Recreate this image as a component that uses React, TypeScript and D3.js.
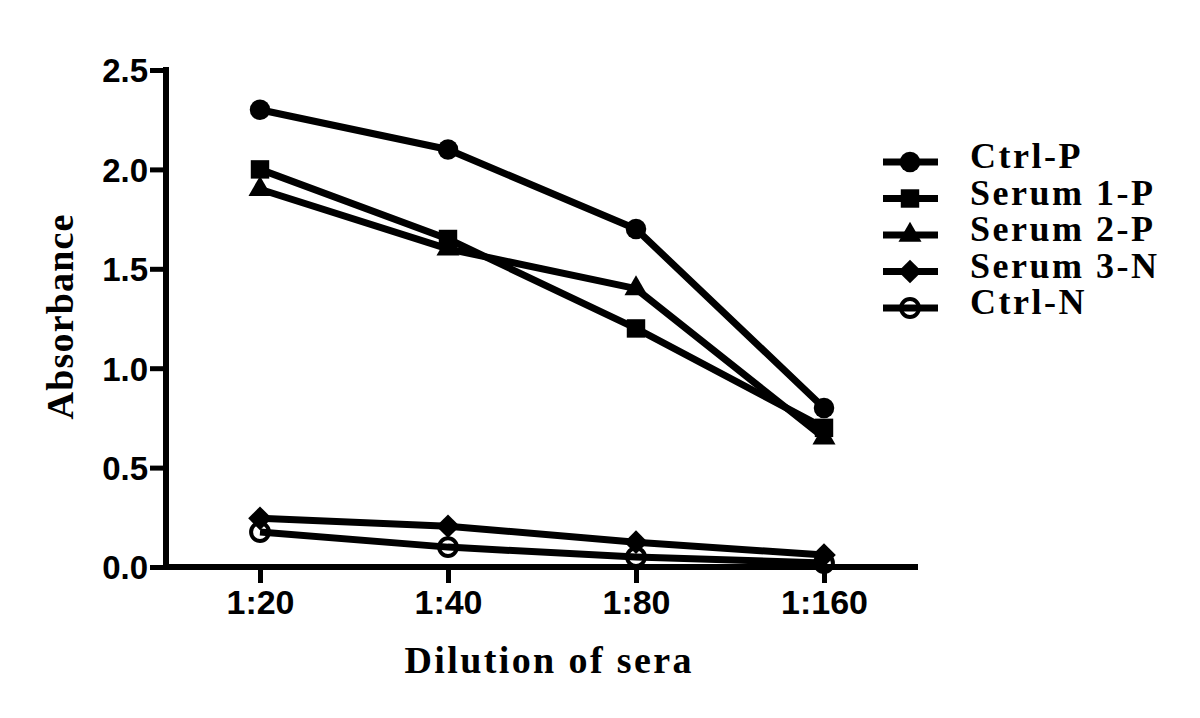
import React, { useEffect, useRef } from "react";
import * as d3 from "d3";

// dilutions on the x axis
const dilutions = ["1:20", "1:40", "1:80", "1:160"];
const seriesNames = ["Ctrl-P", "Serum 1-P", "Serum 2-P", "Serum 3-N", "Ctrl-N"];

const ctrlP = [2.3, 2.1, 1.7, 0.8];
const serum1P = [2.0, 1.65, 1.2, 0.7];
const serum2P = [1.9, 1.6, 1.4, 0.65];
const serum3N = [0.245, 0.205, 0.125, 0.06];
const ctrlN = [0.176, 0.1, 0.05, 0.02];

const yTicks = [0, 0.5, 1.0, 1.5, 2.0, 2.5];

export default function App() {
  const ref = useRef<SVGSVGElement>(null);

  useEffect(() => {
    const svg = d3.select(ref.current);
    svg.selectAll("*").remove();

    const left = 166, right = 918, top = 70, bottom = 567;

    const x = d3.scalePoint<string>().domain(dilutions).range([left, right]).padding(0.5);
    const y = d3.scaleLinear().domain([0, 2.5]).range([bottom, top]);

    const values = [ctrlP, serum1P, serum2P, serum3N, ctrlN];
    // diamond is a square turned 45deg
    const symbols = [d3.symbolCircle, d3.symbolSquare, d3.symbolTriangle, d3.symbolSquare, d3.symbolCircle];
    const sizes = [330, 340, 230, 280, 250];
    const rot = (s: number) => (s === 3 ? " rotate(45)" : "");

    const g = svg.append("g");

    // axes
    const yAxis = d3.axisLeft(y).tickValues(yTicks).tickFormat(d3.format(".1f")).tickSize(16).tickPadding(2);
    const yg = g.append("g").attr("transform", `translate(${left},0)`).call(yAxis);
    yg.select(".domain").attr("stroke", "#000").attr("stroke-width", 6).attr("d", `M0,${top - 3}V${bottom}`);
    yg.selectAll(".tick line").attr("stroke", "#000").attr("stroke-width", 5);
    yg.selectAll(".tick text")
      .attr("font-family", "'Liberation Sans', Arial, sans-serif")
      .attr("font-weight", "bold")
      .attr("font-size", 33)
      .attr("fill", "#000")
      .attr("dy", "0.36em");

    const xAxis = d3.axisBottom(x).tickSize(16).tickPadding(7);
    const xg = g.append("g").attr("transform", `translate(0,${bottom})`).call(xAxis);
    xg.select(".domain").attr("stroke", "#000").attr("stroke-width", 6).attr("d", `M${left - 3},0H${right}`);
    xg.selectAll(".tick line").attr("stroke", "#000").attr("stroke-width", 5);
    xg.selectAll(".tick text")
      .attr("font-family", "'Liberation Sans', Arial, sans-serif")
      .attr("font-weight", "bold")
      .attr("font-size", 34)
      .attr("fill", "#000");

    // axis titles
    g.append("text")
      .attr("x", 548)
      .attr("y", 673)
      .attr("text-anchor", "middle")
      .attr("font-family", "'Liberation Serif', 'Times New Roman', serif")
      .attr("font-weight", "bold")
      .attr("font-size", 38)
      .attr("textLength", 287)
      .attr("lengthAdjust", "spacing")
      .text("Dilution of sera");
    g.append("text")
      .attr("transform", "translate(73,317) rotate(-90)")
      .attr("text-anchor", "middle")
      .attr("font-family", "'Liberation Serif', 'Times New Roman', serif")
      .attr("font-weight", "bold")
      .attr("font-size", 38)
      .attr("textLength", 205)
      .attr("lengthAdjust", "spacing")
      .text("Absorbance");

    const line = d3.line<number>().x((d, i) => x(dilutions[i]) as number).y(d => y(d));

    values.forEach((vals, s) => {
      g.append("path")
        .attr("d", line(vals))
        .attr("fill", "none")
        .attr("stroke", "#000")
        .attr("stroke-width", 7)
        .attr("stroke-linejoin", "round");
      const sym = d3.symbol().type(symbols[s]).size(sizes[s]);
      g.selectAll(null)
        .data(vals)
        .join("path")
        .attr("d", sym)
        .attr("transform", (d, i) => `translate(${x(dilutions[i])},${y(d)})${rot(s)}`)
        .attr("fill", s === 4 ? "none" : "#000")
        .attr("stroke", "#000")
        .attr("stroke-width", s === 4 ? 4 : 0);
    });

    // legend
    const lg = g.append("g");
    seriesNames.forEach((name, s) => {
      const ly = 162 + s * 36.5;
      lg.append("line")
        .attr("x1", 883).attr("x2", 938)
        .attr("y1", ly).attr("y2", ly)
        .attr("stroke", "#000").attr("stroke-width", 7);
      lg.append("path")
        .attr("d", d3.symbol().type(symbols[s]).size(sizes[s])())
        .attr("transform", `translate(910,${ly})${rot(s)}`)
        .attr("fill", s === 4 ? "none" : "#000")
        .attr("stroke", "#000")
        .attr("stroke-width", s === 4 ? 4 : 0);
      lg.append("text")
        .attr("x", 970)
        .attr("y", ly + 6)
        .attr("font-family", "'Liberation Serif', 'Times New Roman', serif")
        .attr("font-weight", "bold")
        .attr("font-size", 36)
        .attr("letter-spacing", 2.5)
        .text(name);
    });
  }, []);

  return (
    <svg
      ref={ref}
      width={1200}
      height={718}
      style={{ position: "absolute", left: 0, top: 0, background: "#fff" }}
    />
  );
}
